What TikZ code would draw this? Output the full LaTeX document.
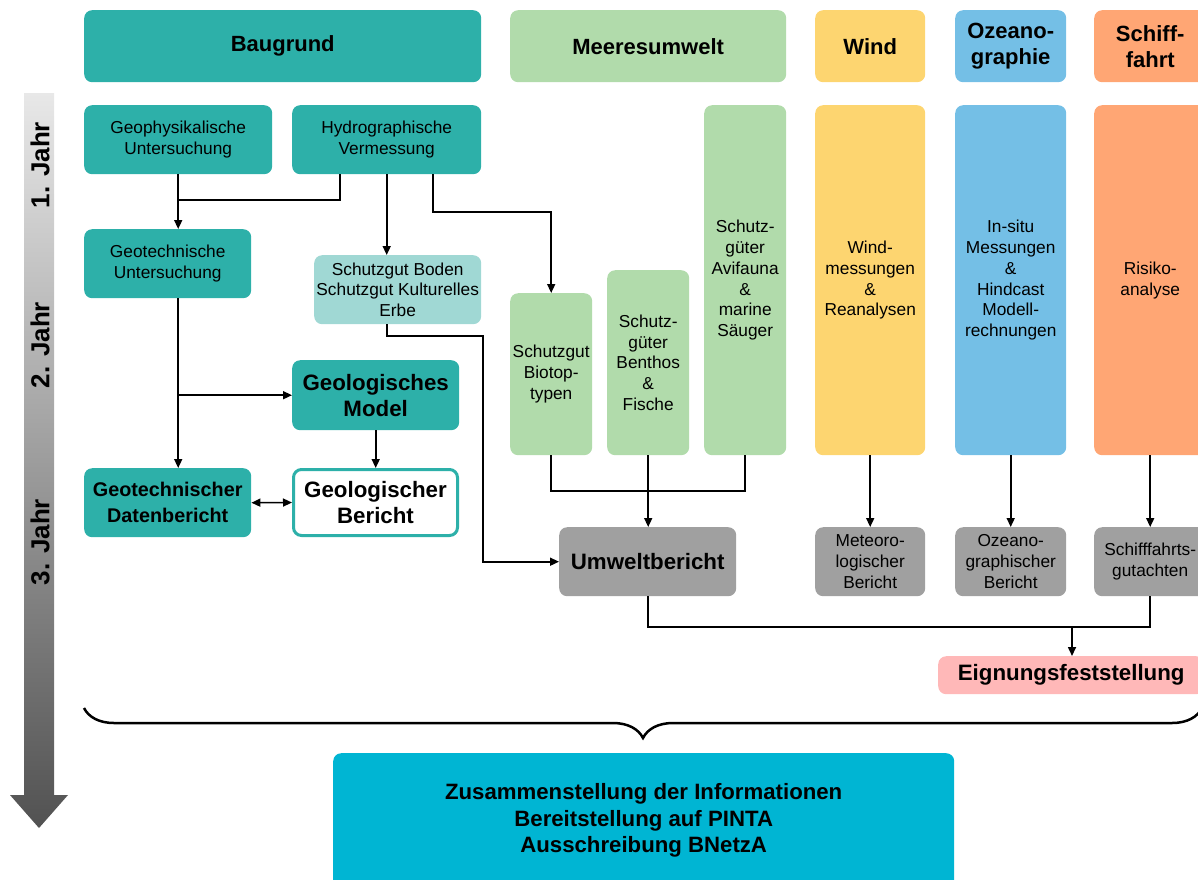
\documentclass[tikz,border=0pt]{standalone}
\usepackage{fontspec}
\setmainfont{Liberation Sans}
\usepackage{xcolor}
\usetikzlibrary{arrows.meta,positioning,decorations.pathreplacing,calc}

\definecolor{bgteal}{HTML}{2DB0A9}
\definecolor{bglteal}{HTML}{A0D8D4}
\definecolor{bggreen}{HTML}{B1DBAB}
\definecolor{bgyellow}{HTML}{FDD570}
\definecolor{bgblue}{HTML}{74BFE6}
\definecolor{bgorange}{HTML}{FFA674}
\definecolor{bggray}{HTML}{A0A0A0}
\definecolor{bgpink}{HTML}{FFB8B8}
\definecolor{bgcyan}{HTML}{00B5D3}

\begin{document}
\begin{tikzpicture}[x=1pt, y=-1pt,
  box/.style={rounded corners=8pt, anchor=north west, align=center, inner sep=1pt, font=\fontsize{17.3}{20.7}\selectfont},
  hdr/.style={box, minimum height=72, font=\fontsize{22}{26}\selectfont\bfseries},
  bigbox/.style={box, font=\fontsize{22.3}{26}\selectfont\bfseries},
  jahr/.style={rotate=90, font=\fontsize{26}{28}\selectfont\bfseries},
  arr/.style={-{Triangle[length=9pt,width=8pt]}, line width=1.6pt},
  darr/.style={{Triangle[length=9pt,width=8pt]}-{Triangle[length=9pt,width=8pt]}, line width=1.6pt},
  conn/.style={line width=1.6pt},
]
\useasboundingbox (0,0) rectangle (1198,879);
\clip (0,0) rectangle (1198,879);

% time line
\shade[top color=black!9, bottom color=black!68]
  (24,93) -- (54,93) -- (54,795) -- (68,795) -- (39,828) -- (10,795) -- (24,795) -- cycle;
\node[jahr] (jahr1) at (40,165) {1. Jahr};
\node[jahr] (jahr2) at (40,345) {2. Jahr};
\node[jahr] (jahr3) at (40,542) {3. Jahr};

% headers
\node[hdr, fill=bgteal, minimum width=397] (baugrund) at (84,10) {Baugrund};
\node[hdr, fill=bggreen, minimum width=276] (meer) at (510,10) {Meeresumwelt};
\node[hdr, fill=bgyellow, minimum width=110] (wind) at (815,10) {Wind};
\node[hdr, fill=bgblue, minimum width=111] (ozean) at (955,10) {Ozeano-\\graphie};
\node[hdr, fill=bgorange, minimum width=112] (schiff) at (1094,10) {Schiff-\\fahrt};

% Baugrund
\node[box, fill=bgteal, minimum width=188, minimum height=69] (geophys) at (84,105) {Geophysikalische\\Untersuchung};
\node[box, fill=bgteal, minimum width=189, minimum height=69] (hydro) at (292,105) {Hydrographische\\Vermessung};
\node[box, fill=bgteal, minimum width=167, minimum height=69] (geotech) at (84,229) {Geotechnische\\Untersuchung};
\node[box, fill=bglteal, minimum width=167, minimum height=69] (boden) at (314,255) {Schutzgut Boden\\Schutzgut Kulturelles\\Erbe};
\node[bigbox, fill=bgteal, minimum width=167, minimum height=70] (model) at (292,360) {Geologisches\\Model};
\node[bigbox, fill=bgteal, minimum width=167, minimum height=69, font=\fontsize{19.8}{26}\selectfont\bfseries] (datenb) at (84,468) {Geotechnischer\\Datenbericht};
\node[bigbox, fill=white, draw=bgteal, line width=3pt, minimum width=164, minimum height=66] (geober) at (292,468) {Geologischer\\Bericht};

% Meeresumwelt
\node[box, fill=bggreen, minimum width=82, minimum height=162] (biotop) at (510,293) {Schutzgut\\Biotop-\\typen};
\node[box, fill=bggreen, minimum width=82, minimum height=185] (benthos) at (607,270) {Schutz-\\güter\\Benthos\\\&\\Fische};
\node[box, fill=bggreen, minimum width=82, minimum height=350] (avi) at (704,105) {Schutz-\\güter\\Avifauna\\\&\\marine\\Säuger};

% Wind, Ozeanographie, Schifffahrt
\node[box, fill=bgyellow, minimum width=110, minimum height=350] (wmess) at (815,105) {Wind-\\messungen\\\&\\Reanalysen};
\node[box, fill=bgblue, minimum width=111, minimum height=350] (insitu) at (955,105) {In-situ\\Messungen\\\&\\Hindcast\\Modell-\\rechnungen};
\node[box, fill=bgorange, minimum width=112, minimum height=350] (risiko) at (1094,105) {Risiko-\\analyse};

% Berichte
\node[bigbox, fill=bggray, minimum width=177, minimum height=69] (umwelt) at (559,527) {Umweltbericht};
\node[box, fill=bggray, minimum width=110, minimum height=69] (meteo) at (815,527) {Meteoro-\\logischer\\Bericht};
\node[box, fill=bggray, minimum width=111, minimum height=69] (ozeanb) at (955,527) {Ozeano-\\graphischer\\Bericht};
\node[box, fill=bggray, minimum width=112, minimum height=69] (schiffg) at (1094,527) {Schifffahrts-\\gutachten};
\node[bigbox, fill=bgpink, minimum width=266, minimum height=38] (eignung) at (938,656) {Eignungsfeststellung};

\node[box, fill=bgcyan, minimum width=621, minimum height=135, font=\fontsize{22.2}{26.5}\selectfont\bfseries] (final) at (333,753)
  {Zusammenstellung der Informationen\\Bereitstellung auf PINTA\\Ausschreibung BNetzA};

% connectors Baugrund
\coordinate (c1) at (178,200);
\coordinate (c2) at (433,212);
\coordinate (c3) at (387,336);
\coordinate (c4) at (483,336);
\draw[arr] (geophys.south) -- (geophys.south |- geotech.north);
\draw[conn] ([xshift=-46.5pt]hydro.south) |- (c1);
\draw[arr] (hydro.south) -- (hydro.south |- boden.north);
\draw[arr] (c2 |- hydro.south) -- (c2) -| (biotop.north);
\draw[arr] (geophys.south |- geotech.south) -- (geophys.south |- datenb.north);
\draw[arr] (geophys.south |- model.west) -- (model.west);
\draw[arr] (model.south) -- (model.south |- geober.north);
\draw[darr] (datenb.east) -- (geober.west);
\draw[arr] (c3 |- boden.south) -- (c3) -- (c4) |- (umwelt.west);

% connectors Meeresumwelt and others
\coordinate (c5) at (647,491);
\draw[conn] (biotop.south) |- (c5) -| (avi.south);
\draw[arr] (benthos.south) -- (benthos.south |- umwelt.north);
\draw[arr] (wmess.south) -- (meteo.north);
\draw[arr] (insitu.south) -- (ozeanb.north);
\draw[arr] (risiko.south) -- (schiffg.north);
\coordinate (c6) at (1072,627);
\draw[conn] (umwelt.south) |- (c6) -| (schiffg.south);
\draw[arr] (c6) -- (c6 |- eignung.north);

% brace
\coordinate (bl) at (84,708);
\coordinate (br) at (1202,708);
\draw[line width=2.5pt, decorate, decoration={brace, mirror, amplitude=30pt}] (bl) -- (br);

\end{tikzpicture}
\end{document}
